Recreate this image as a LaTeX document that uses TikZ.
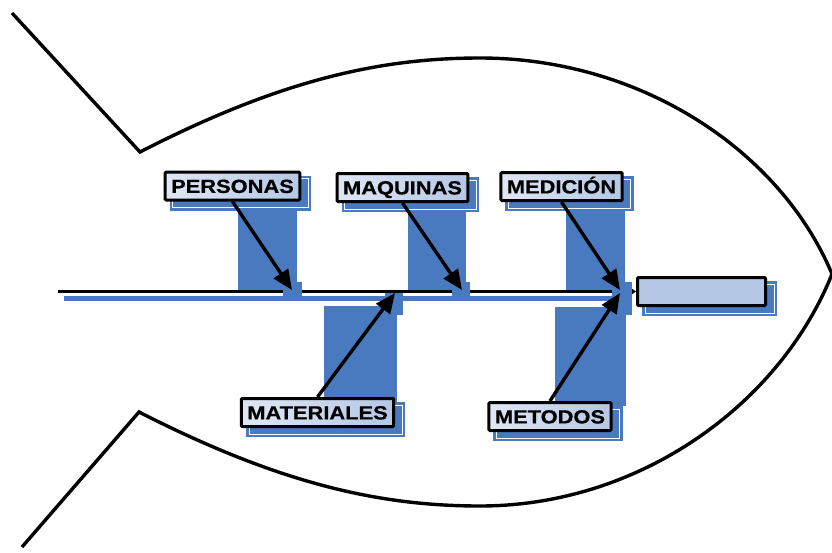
\documentclass[tikz,border=0pt]{standalone}
\usepackage{fontspec}
\setmainfont{Liberation Sans}
\newfontfamily\rotulo[FakeStretch=1.15,FakeBold=0.6]{Liberation Sans}
\usetikzlibrary{arrows.meta,backgrounds}
\definecolor{sombraazul}{RGB}{73,121,191}
\definecolor{cajaclara}{RGB}{224,231,243}
\definecolor{cajaoscura}{RGB}{180,199,229}
\tikzset{
        causa/.style={draw=black, line width=3pt, rounded corners=1pt,
                left color=cajaclara, right color=cajaoscura,
                font=\rotulo\bfseries\fontsize{19}{19}\selectfont,
                text height=13.8pt, text depth=0pt, inner xsep=6pt, minimum height=28pt},
        efecto/.style={draw=black, line width=3pt, rounded corners=1pt, fill=cajaoscura,
                minimum width=128pt, minimum height=28pt},
        flecha/.style={line width=3.4pt, -{Triangle[length=20pt,width=17pt]}},
        contorno/.style={line width=3.4pt},
        sombra/.style={fill=sombraazul}
}

\begin{document}
\begin{tikzpicture}[x=1pt,y=-1pt]
        \useasboundingbox (0,0) rectangle (832,552);

        \node[causa] (per) at (232.5,186) {PERSONAS};
        \node[causa] (maq) at (402.5,187.5) {MAQUINAS};
        \node[causa] (med) at (561.5,186.5) {MEDICIÓN};
        \node[causa] (mat) at (317.5,412.5) {MATERIALES};
        \node[causa] (met) at (550,416.5) {METODOS};
        \node[efecto] (cab) at (701.5,291.5) {};

        \coordinate (cola) at (58,291.5);
        \coordinate (tper) at (292,290);
        \coordinate (tmaq) at (462,290);
        \coordinate (tmed) at (620,290);
        \coordinate (tmat) at (395,293);
        \coordinate (tmet) at (620,293);

        \begin{scope}[on background layer]
                % sombras de las espinas
                \fill[sombra] ([shift={(5,8)}]per.south) rectangle ([shift={(5,0)}]tper);
                \fill[sombra] ([shift={(5,8)}]maq.south) rectangle ([shift={(4,0)}]tmaq);
                \fill[sombra] ([shift={(4,8)}]med.south) rectangle ([shift={(5,0)}]tmed);
                \fill[sombra] ([shift={(6,5)}]mat.north) rectangle ([shift={(2,13)}]tmat);
                \fill[sombra] ([shift={(5,5)}]met.north) rectangle ([shift={(6,14)}]tmet);
                % sombras de las cajas
                \foreach \n in {per,maq,med,mat,met,cab} {
                        \fill[sombra] ([shift={(6,5)}]\n.north west) rectangle ([shift={(10,9)}]\n.south east);
                        \draw[white, line width=0.6pt] ([shift={(9,8)}]\n.north west) rectangle ([shift={(7,6)}]\n.south east);
                }
                \fill[sombra] (64,295.5) rectangle (623,300.5);
                \draw[line width=3pt, -{Triangle[length=6pt,width=8pt]}] (cola) -- (cab.west);
                % puntas
                \fill[sombra] ([shift={(-9,-8)}]tper) rectangle ([shift={(10,7)}]tper);
                \fill[sombra] ([shift={(-10,-8)}]tmaq) rectangle ([shift={(8,10)}]tmaq);
                \fill[sombra] ([shift={(-10,0)}]tmat) rectangle ([shift={(8,22)}]tmat);
                \fill[sombra] ([shift={(-8,-8)}]tmed) rectangle ([shift={(12,22)}]tmet);
        \end{scope}

        \draw[flecha] (per.south) -- (tper);
        \draw[flecha] (maq.south) -- (tmaq);
        \draw[flecha] (med.south) -- (tmed);
        \draw[flecha] (mat.north) -- (tmat);
        \draw[flecha] (met.north) -- (tmet);

        \draw[contorno] (12,13) -- (140,152) .. controls (280,80) and (380,58) .. (480,58)
                .. controls (640,58) and (780,150) .. (832,274)
                .. controls (780,404) and (640,506) .. (480,506)
                .. controls (380,506) and (280,484) .. (139,412) -- (22,547);
\end{tikzpicture}
\end{document}
